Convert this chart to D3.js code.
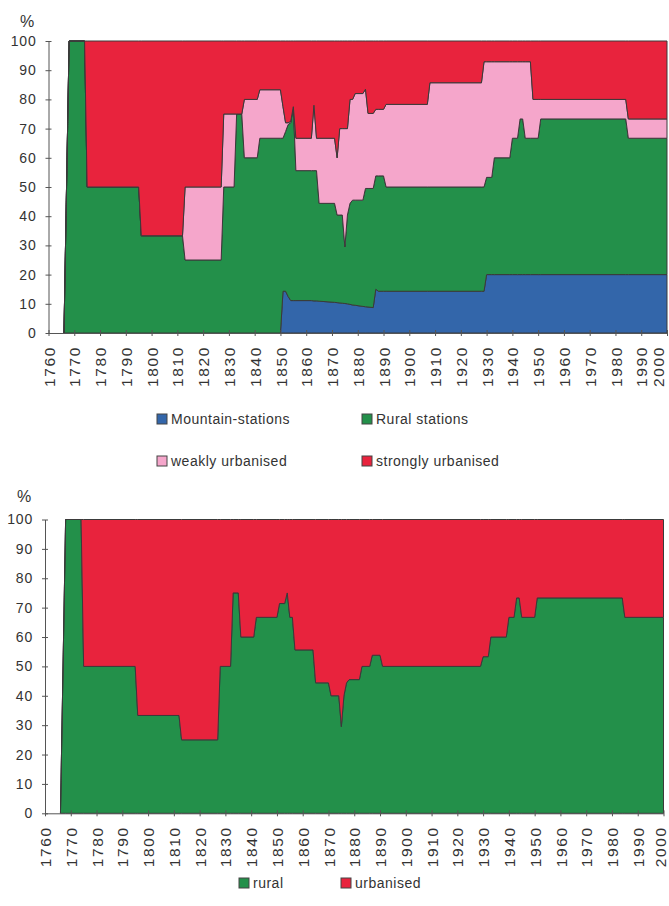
<!DOCTYPE html>
<html><head><meta charset="utf-8">
<script src="https://cdn.jsdelivr.net/npm/d3@7"></script>
<style>
body{margin:0;background:#fff;}
svg{display:block;}
text{font-family:"Liberation Sans",Arial,sans-serif;fill:#333;}
</style>
</head><body>
<svg id="c" width="669" height="906"></svg>
<script>
// ---------- Top chart data (percent shares per station class) ----------
const years    = [1766,1768,1774,1775,1795,1796,1812,1813,1827,1828,1832,1833,1835,1836,1841,1842,1850,1851,1852,1853,1854,1855,1856,1862,1863,1864,1865,1871,1872,1873,1874,1875,1876,1877,1878,1879,1882,1883,1884,1886,1887,1888,1890,1891,1907,1908,1928,1929,1930,1932,1933,1939,1940,1942,1943,1944,1945,1947,1948,1950,1951,1984,1985,2000];
const mountain = [0,0,0,0,0,0,0,0,0,0,0,0,0,0,0,0,0,14.3,14.3,12.5,11.1,11.1,11.1,11.1,11,11,10.9,10.5,10.4,10.3,10.2,10.1,10,9.8,9.6,9.5,9.1,9,8.9,8.7,15,14.3,14.3,14.3,14.3,14.3,14.3,14.3,20,20,20,20,20,20,20,20,20,20,20,20,20,20,20,20];
const rural    = [0,100,100,50,50,33.3,33.3,25,25,50,50,75,75,60,60,66.7,66.7,52.4,54.7,58.9,60.9,66.4,44.5,44.5,44.6,44.6,33.5,33.9,30,30.1,30.2,19.4,30.4,34.6,35.9,36,36.4,40.5,40.6,40.8,38.8,39.5,39.5,35.7,35.7,35.7,35.7,35.7,33.3,33.3,40,40,46.7,46.7,53.3,53.3,46.7,46.7,46.7,46.7,53.3,53.3,46.7,46.7];
const weakly   = [0,0,0,0,0,0,0,25,25,25,25,0,0,20,20,16.6,16.6,10.8,3,0.6,0.5,0,11.1,11.1,22.4,11.1,22.3,22.3,19.6,29.6,29.6,40.5,29.6,35.6,34.5,36.5,36.5,34,25.7,25.7,22.8,22.8,22.8,28.3,28.3,35.7,35.7,42.9,39.6,39.6,32.9,32.9,26.2,26.2,19.6,19.6,26.2,26.2,13.3,13.3,6.7,6.7,6.6,6.6];
const strongly = [0,0,0,50,50,66.7,66.7,50,50,25,25,25,25,20,20,16.7,16.7,22.5,28,28,27.5,22.5,33.3,33.3,22,33.3,33.3,33.3,40,30,30,30,30,20,20,18,18,16.5,24.8,24.8,23.4,23.4,23.4,21.7,21.7,14.3,14.3,7.1,7.1,7.1,7.1,7.1,7.1,7.1,7.1,7.1,7.1,7.1,20,20,20,20,26.7,26.7];

// ---------- Bottom chart data ----------
const years2 = [1766,1768,1774,1775,1795,1796,1812,1813,1827,1828,1832,1833,1835,1836,1841,1842,1850,1851,1853,1854,1855,1856,1857,1864,1865,1870,1871,1874,1875,1876,1877,1878,1882,1883,1886,1887,1890,1891,1929,1930,1932,1933,1939,1940,1942,1943,1944,1945,1950,1951,1984,1985,2000];
const rural2 = [0,100,100,50,50,33.3,33.3,25,25,50,50,75,75,60,60,66.7,66.7,71.4,71.4,75,66.7,66.7,55.6,55.6,44.4,44.4,40,40,29.5,40,44.4,45.5,45.5,50,50,53.8,53.8,50,50,53.3,53.3,60,60,66.7,66.7,73.3,73.3,66.7,66.7,73.3,73.3,66.7,66.7];
const urban2 = [0,0,0,50,50,66.7,66.7,75,75,50,50,25,25,40,40,33.3,33.3,28.6,28.6,25,33.3,33.3,44.4,44.4,55.6,55.6,60,60,70.5,60,55.6,54.5,54.5,50,50,46.2,46.2,50,50,46.7,46.7,40,40,33.3,33.3,26.7,26.7,33.3,33.3,26.7,26.7,33.3,33.3];

const xTicks = d3.range(1760, 2001, 10);
const yTicks = d3.range(0, 101, 10);

const colors = {mountain:"#3366aa", rural:"#23904a", weakly:"#f5a6cb", strongly:"#e8233d"};
const colors2 = {rural:"#23904a", urban:"#e8233d"};

const svg = d3.select("#c");

function drawChart(cfg){
  const x = d3.scaleLinear().domain([1760,2000]).range([cfg.left, cfg.right]);
  const y = d3.scaleLinear().domain([0,100]).range([cfg.bottom, cfg.top]);
  const g = svg.append("g");
  const stack = d3.stack().keys(cfg.keys);
  const series = stack(cfg.rows);
  const area = d3.area().x(d=>x(d.data.year)).y0(d=>y(d[0])).y1(d=>y(d[1]));
  g.selectAll("path.s").data(series).join("path")
    .attr("class","s")
    .attr("d", area)
    .attr("fill", d=>cfg.colors[d.key])
    .attr("stroke","#3a3a3a").attr("stroke-width",1).attr("stroke-linejoin","miter");

  // y axis
  const ya = g.append("g").attr("transform",`translate(${cfg.left},0)`)
    .call(d3.axisLeft(y).tickValues(yTicks).tickSize(3).tickSizeOuter(0).tickPadding(9));
  ya.select(".domain").attr("stroke","#555");
  ya.selectAll(".tick line").attr("x1",3).attr("stroke","#555");
  ya.selectAll(".tick text").style("font-size","14px").style("letter-spacing","0.8px").attr("fill","#333")
    .style("font-family","'Liberation Sans',Arial,sans-serif");

  // x axis
  const xa = g.append("g").attr("transform",`translate(0,${cfg.bottom})`)
    .call(d3.axisBottom(x).tickValues(xTicks).tickSize(3).tickSizeOuter(0).tickFormat(d3.format("d")));
  xa.select(".domain").attr("stroke","#555");
  xa.selectAll(".tick line").attr("y1",-3).attr("stroke","#555");
  xa.selectAll(".tick text")
    .attr("transform","rotate(-90)")
    .attr("text-anchor","end")
    .attr("x",-13).attr("y",0).attr("dy",d=> d===2000 ? (cfg.right > 665 ? "-0.2em" : "0.1em") : "0.36em")
    .style("font-size","15.5px").style("letter-spacing","1.6px").attr("fill","#333")
    .style("font-family","'Liberation Sans',Arial,sans-serif");

  // % label
  g.append("text").attr("x",cfg.pctX).attr("y",cfg.pctY).text("%")
    .style("font-size","16px");

  // legend
  cfg.legend.forEach(l=>{
    g.append("rect").attr("x",l.x).attr("y",l.y-5).attr("width",10).attr("height",10)
      .attr("fill",l.color).attr("stroke","#444").attr("stroke-width",1);
    g.append("text").attr("x",l.x+14).attr("y",l.y).attr("dy","0.35em").text(l.label)
      .style("font-size","14px").style("letter-spacing","0.5px");
  });
}

const rows1 = years.map((yr,i)=>({year:yr, mountain:mountain[i], rural:rural[i], weakly:weakly[i], strongly:strongly[i]}));
drawChart({
  left:48.5, right:667, top:41, bottom:333,
  keys:["mountain","rural","weakly","strongly"], rows:rows1, colors:colors,
  pctX:20, pctY:27,
  legend:[
    {x:157,y:419,color:colors.mountain,label:"Mountain-stations"},
    {x:362,y:419,color:colors.rural,label:"Rural stations"},
    {x:157,y:461,color:colors.weakly,label:"weakly urbanised"},
    {x:362,y:461,color:colors.strongly,label:"strongly urbanised"}
  ]
});

const rows2 = years2.map((yr,i)=>({year:yr, rural:rural2[i], urban:urban2[i]}));
drawChart({
  left:45, right:663.5, top:519.5, bottom:813.3,
  keys:["rural","urban"], rows:rows2, colors:colors2,
  pctX:17, pctY:502,
  legend:[
    {x:239,y:883,color:colors2.rural,label:"rural"},
    {x:341,y:883,color:colors2.urban,label:"urbanised"}
  ]
});
</script>
</body></html>
